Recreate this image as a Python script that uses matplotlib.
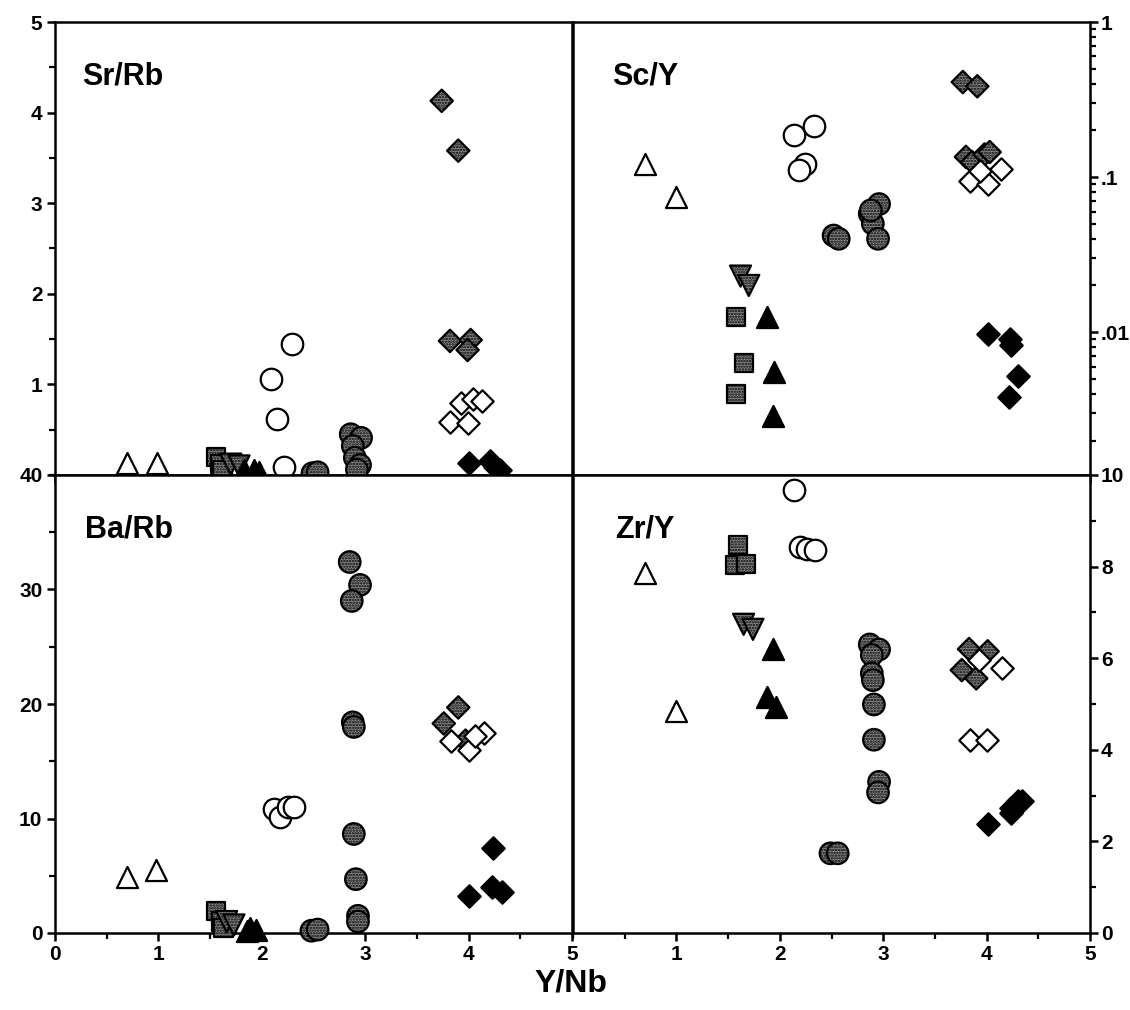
import numpy as np
import matplotlib
matplotlib.use("Agg")
import matplotlib.pyplot as plt
from matplotlib.ticker import MultipleLocator, FixedLocator, NullFormatter, LogLocator

plt.rcParams['font.family'] = ['Liberation Sans', 'DejaVu Sans']
plt.rcParams['font.weight'] = 'bold'
plt.rcParams['hatch.linewidth'] = 1.2

# Y/Nb (x) and ratio (y) for each sample group, per panel
open_tri = {
    'Sr/Rb': ([0.70, 0.99], [0.13, 0.13]),
    'Sc/Y': ([0.70, 1.00], [0.122, 0.074]),
    'Ba/Rb': ([0.70, 0.98], [4.9, 5.5]),
    'Zr/Y': ([0.70, 1.00], [7.85, 4.84]),
}
shaded_sq = {
    'Sr/Rb': ([1.56, 1.60, 1.62], [0.20, 0.12, 0.05]),
    'Sc/Y': ([1.58, 1.65, 1.58], [0.0126, 0.0063, 0.0040]),
    'Ba/Rb': ([1.56, 1.61, 1.63], [1.9, 1.0, 0.4]),
    'Zr/Y': ([1.60, 1.57, 1.67], [8.47, 8.04, 8.05]),
}
shaded_dtri = {
    'Sr/Rb': ([1.70, 1.78], [0.12, 0.10]),
    'Sc/Y': ([1.62, 1.70], [0.023, 0.020]),
    'Ba/Rb': ([1.66, 1.73], [1.0, 0.7]),
    'Zr/Y': ([1.65, 1.74], [6.74, 6.63]),
}
black_tri = {
    'Sr/Rb': ([1.83, 1.92, 1.97], [0.05, 0.06, 0.03]),
    'Sc/Y': ([1.88, 1.94, 1.93], [0.0126, 0.0055, 0.0029]),
    'Ba/Rb': ([1.86, 1.89, 1.94], [0.15, 0.45, 0.3]),
    'Zr/Y': ([1.93, 1.88, 1.96], [6.20, 5.16, 4.93]),
}
open_circ = {
    'Sr/Rb': ([2.29, 2.09, 2.15, 2.21], [1.45, 1.06, 0.62, 0.09]),
    'Sc/Y': ([2.14, 2.33, 2.24, 2.19], [0.188, 0.215, 0.122, 0.111]),
    'Ba/Rb': ([2.12, 2.18, 2.25, 2.31], [10.8, 10.1, 11.0, 11.0]),
    'Zr/Y': ([2.14, 2.20, 2.26, 2.34], [9.67, 8.42, 8.39, 8.37]),
}
shaded_circ = {
    'Sr/Rb': ([2.49, 2.54, 2.86, 2.96, 2.88, 2.90, 2.95, 2.92],
              [0.02, 0.03, 0.45, 0.41, 0.32, 0.19, 0.11, 0.06]),
    'Sc/Y': ([2.52, 2.57, 2.96, 2.87, 2.90, 2.95, 2.88],
             [0.042, 0.040, 0.067, 0.058, 0.050, 0.040, 0.061]),
    'Ba/Rb': ([2.48, 2.54, 2.85, 2.95, 2.87, 2.88, 2.89, 2.89, 2.91, 2.93, 2.93],
              [0.2, 0.3, 32.4, 30.4, 29.0, 18.4, 18.0, 8.65, 4.7, 1.5, 1.0]),
    'Zr/Y': ([2.49, 2.56, 2.87, 2.96, 2.89, 2.89, 2.90, 2.91, 2.91, 2.96, 2.95],
             [1.74, 1.74, 6.30, 6.19, 6.07, 5.67, 5.52, 4.99, 4.22, 3.30, 3.07]),
}
shaded_diam = {
    'Sr/Rb': ([3.74, 3.90, 3.82, 4.02, 3.99], [4.13, 3.58, 1.48, 1.49, 1.38]),
    'Sc/Y': ([3.77, 3.91, 3.80, 3.86, 3.98, 4.03], [0.41, 0.385, 0.135, 0.125, 0.14, 0.145]),
    'Ba/Rb': ([3.90, 3.76, 3.97], [19.7, 18.3, 16.8]),
    'Zr/Y': ([3.83, 4.01, 3.76, 3.90], [6.20, 6.15, 5.74, 5.56]),
}
open_diam = {
    'Sr/Rb': ([3.93, 4.04, 4.13, 3.82, 3.99], [0.80, 0.84, 0.82, 0.58, 0.57]),
    'Sc/Y': ([3.84, 4.01, 3.94, 4.14], [0.095, 0.090, 0.11, 0.113]),
    'Ba/Rb': ([4.15, 3.83, 4.00, 4.06], [17.5, 16.8, 16.0, 17.2]),
    'Zr/Y': ([3.93, 4.15, 3.84, 4.00], [5.96, 5.79, 4.22, 4.22]),
}
black_diam = {
    'Sr/Rb': ([4.00, 4.21, 4.26, 4.30], [0.13, 0.15, 0.09, 0.05]),
    'Sc/Y': ([4.01, 4.23, 4.24, 4.30, 4.22], [0.0098, 0.0091, 0.0083, 0.0052, 0.0038]),
    'Ba/Rb': ([4.24, 4.23, 4.32, 4.00], [7.4, 4.0, 3.6, 3.2]),
    'Zr/Y': ([4.01, 4.24, 4.30, 4.34, 4.24], [2.37, 2.63, 2.89, 2.89, 2.74]),
}

shade = dict(c='#8c8c8c', edgecolors='k', hatch='......')
groups = [
    (open_tri, dict(marker='^', s=230, c='white', edgecolors='k')),
    (shaded_sq, dict(marker='s', s=170, **shade)),
    (shaded_dtri, dict(marker='v', s=230, **shade)),
    (black_tri, dict(marker='^', s=230, c='k', edgecolors='k')),
    (open_circ, dict(marker='o', s=240, c='white', edgecolors='k')),
    (shaded_circ, dict(marker='o', s=240, **shade)),
    (shaded_diam, dict(marker='D', s=130, **shade)),
    (open_diam, dict(marker='D', s=130, c='white', edgecolors='k')),
    (black_diam, dict(marker='D', s=130, c='k', edgecolors='k')),
]

fig = plt.figure(figsize=(11.3, 10.1), dpi=100)
lx, rx, w = 55 / 1130, 573 / 1130, 517 / 1130
top_y, top_h = 1 - 475 / 1010, 453 / 1010
bot_y, bot_h = 1 - 933 / 1010, 458 / 1010

axes = {
    'Sr/Rb': fig.add_axes([lx, top_y, w, top_h]),
    'Sc/Y': fig.add_axes([rx, top_y, w, top_h]),
    'Ba/Rb': fig.add_axes([lx, bot_y, w, bot_h]),
    'Zr/Y': fig.add_axes([rx, bot_y, w, bot_h]),
}
label_x = {'Sr/Rb': 0.052, 'Sc/Y': 0.075, 'Ba/Rb': 0.058, 'Zr/Y': 0.082}

for name, ax in axes.items():
    for data, style in groups:
        xs, ys = data[name]
        ax.scatter(xs, ys, linewidths=1.6, zorder=3, clip_on=False, **style)
    ax.set_xlim(0, 5)
    for sp in ax.spines.values():
        sp.set_linewidth(1.8)
    ax.xaxis.set_major_locator(MultipleLocator(1))
    ax.xaxis.set_minor_locator(MultipleLocator(0.5))
    ax.tick_params(which='major', direction='out', length=6, width=1.8, labelsize=15, pad=3)
    ax.tick_params(which='minor', direction='out', length=4, width=1.6)
    ax.text(label_x[name], 0.88, name, transform=ax.transAxes,
            fontsize=22, fontweight='bold', va='center')

# top-left: Sr/Rb
ax = axes['Sr/Rb']
ax.set_ylim(0, 5)
ax.yaxis.set_major_locator(FixedLocator([1, 2, 3, 4, 5]))
ax.yaxis.set_minor_locator(MultipleLocator(0.5))
ax.xaxis.set_major_formatter(NullFormatter())

# bottom-left: Ba/Rb
ax = axes['Ba/Rb']
ax.set_ylim(0, 40)
ax.yaxis.set_major_locator(MultipleLocator(10))
ax.yaxis.set_minor_locator(MultipleLocator(5))
ax.set_xticks([0, 1, 2, 3, 4, 5])
ax.set_xticklabels(['0', '1', '2', '3', '4', '5'])

# top-right: Sc/Y on a log scale
ax = axes['Sc/Y']
ax.set_yscale('log')
ax.set_ylim(0.0012, 1)
ax.yaxis.tick_right()
ax.yaxis.set_major_locator(FixedLocator([0.01, 0.1, 1]))
ax.yaxis.set_minor_locator(LogLocator(base=10, subs=np.arange(2, 10)))
ax.yaxis.set_minor_formatter(NullFormatter())
ax.set_yticklabels(['.01', '.1', '1'])
ax.xaxis.set_major_formatter(NullFormatter())
ax.tick_params(axis='y', pad=2)

# bottom-right: Zr/Y
ax = axes['Zr/Y']
ax.set_ylim(0, 10)
ax.yaxis.tick_right()
ax.yaxis.set_major_locator(MultipleLocator(2))
ax.yaxis.set_minor_locator(MultipleLocator(1))
ax.set_xticks([1, 2, 3, 4, 5])
ax.set_xticklabels(['1', '2', '3', '4', '5'])
ax.tick_params(axis='y', pad=2)

fig.text(571 / 1130, 1 - 984 / 1010, 'Y/Nb', ha='center', va='center',
         fontsize=23, fontweight='bold')

fig.savefig('out.png', dpi=100)
